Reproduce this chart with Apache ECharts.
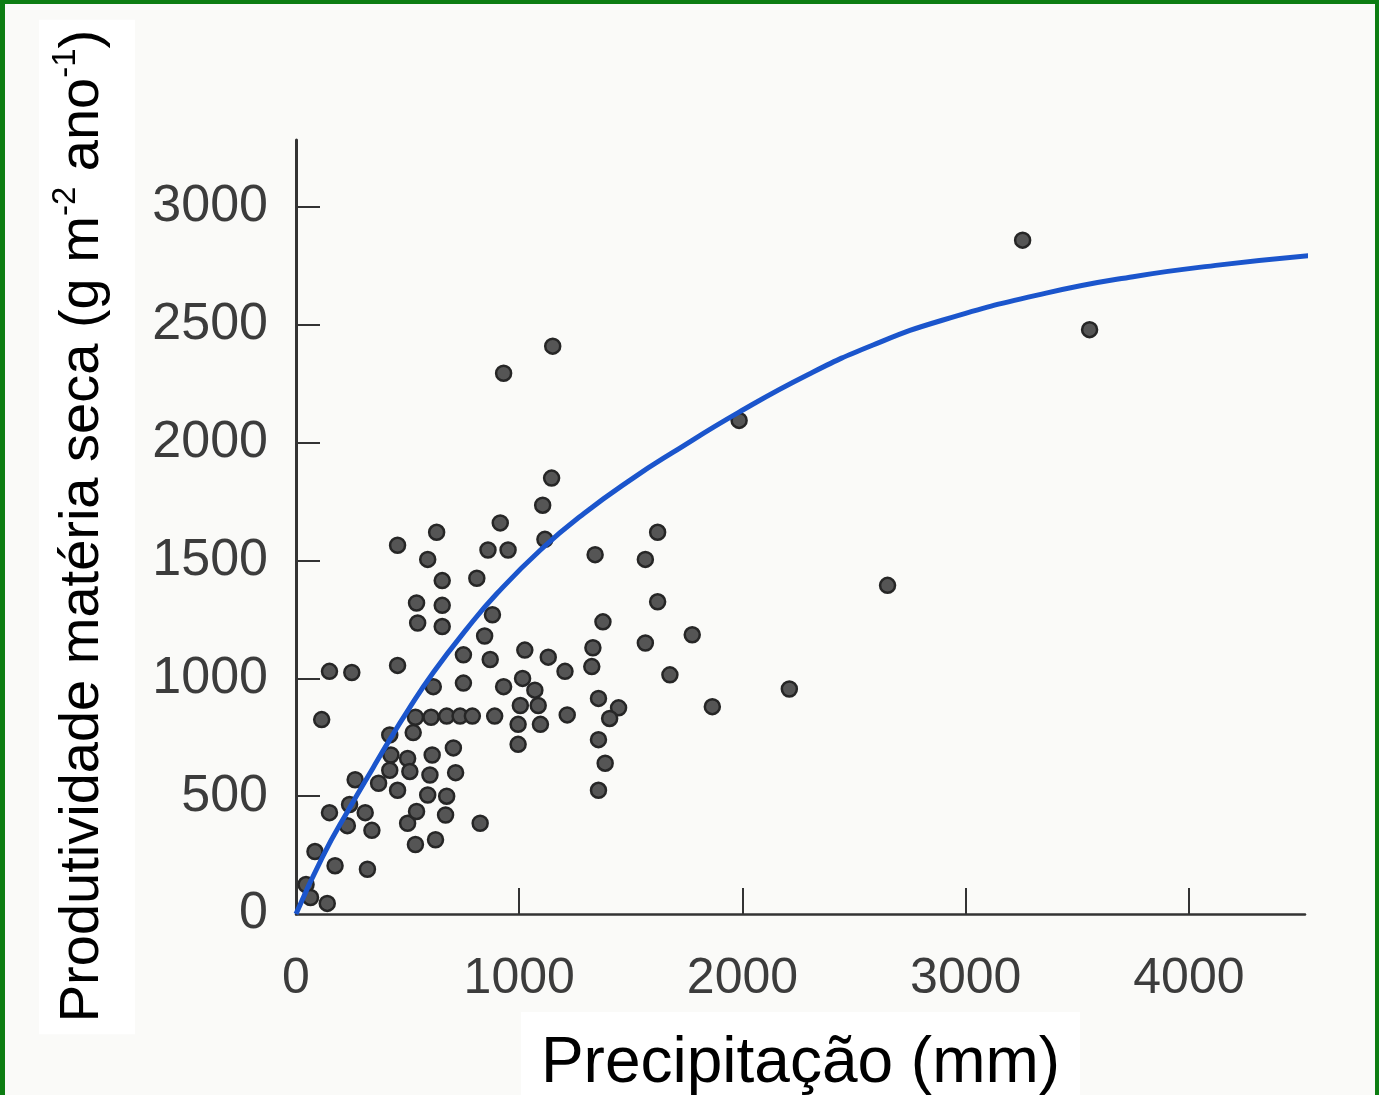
<!DOCTYPE html>
<html>
<head>
<meta charset="utf-8">
<script src="https://cdn.jsdelivr.net/npm/echarts@6/dist/echarts.min.js"></script>
<style>
  html, body { margin: 0; padding: 0; background: #fafaf8; }
  #chart { position: absolute; left: 0; top: 0; width: 1379px; height: 1095px; }
  #frame { position: absolute; left: 0; top: 0; width: 1379px; height: 1095px; box-sizing: border-box;
           border: solid #0c7d12; border-width: 4px 4px 0 5px; pointer-events: none; }
</style>
</head>
<body>
<div id="chart"></div>
<div id="frame"></div>
<script>
// precipitacao (mm) x produtividade (g m-2 ano-1)
const precip = [45, 65, 140, 85, 175, 320, 115, 150, 250, 455, 150, 240, 310, 340, 230,
  370, 265, 455, 425, 420, 500, 510, 420, 525, 500, 535, 540, 590, 625, 670,
  675, 600, 610, 705, 715, 825, 535, 605, 675, 735, 790, 890, 615, 750, 750,
  870, 930, 1015, 1070, 1005, 1085, 995, 1095, 995, 1215, 1025, 1130, 1205, 545, 655,
  540, 655, 845, 880, 590, 655, 810, 630, 455, 860, 950, 915, 1115, 1105, 1145,
  930, 1150, 1620, 1340, 1565, 1620, 1375, 1775, 1565, 1330, 1325, 1675, 1355, 1445, 1405,
  1865, 1355, 1385, 1355, 1985, 2650, 2210, 3255, 3555];
const produt = [125, 70, 45, 265, 205, 190, 825, 1030, 1025, 1055, 430, 465, 430, 355, 375,
  555, 570, 525, 675, 610, 660, 605, 760, 770, 385, 295, 435, 505, 315, 420,
  500, 590, 675, 705, 600, 385, 835, 835, 840, 840, 840, 840, 965, 980, 1100,
  1080, 965, 1000, 950, 885, 885, 805, 805, 720, 845, 1120, 1090, 1030, 1235, 1220,
  1320, 1310, 1180, 1270, 1505, 1415, 1425, 1620, 1565, 1545, 1545, 1660, 1590, 1735, 1850,
  2295, 2410, 1620, 1525, 1505, 1325, 1240, 1185, 1150, 1130, 1050, 1015, 915, 875, 830,
  880, 740, 640, 525, 2095, 1395, 955, 2860, 2480];

// curva ajustada (azul)
const curvePrecip = [0, 120, 240, 345, 420, 495, 615, 765, 900, 1095, 1290, 1510, 1690,
  1985, 2295, 2585, 2895, 3360, 3750, 4140, 4545];
const curveProdut = [0, 245, 450, 620, 740, 855, 1025, 1210, 1360, 1545, 1700, 1850, 1960,
  2130, 2290, 2415, 2520, 2635, 2705, 2755, 2795];

const xTicks = [0, 1000, 2000, 3000, 4000];
const yTicks = [0, 500, 1000, 1500, 2000, 2500, 3000];

const chart = echarts.init(document.getElementById('chart'));
const axisColor = '#333';
const font = 'Liberation Sans, Arial, sans-serif';

chart.setOption({
  backgroundColor: '#fafaf8',
  animation: false,
  grid: {
    left: 296, right: 74, top: 140, bottom: 181,
    containLabel: false,
    outerBoundsMode: 'none'
  },
  xAxis: {
    type: 'value',
    min: 0,
    max: 4520,
    name: 'Precipitação (mm)',
    nameLocation: 'middle',
    nameGap: 98,
    nameTextStyle: {
      fontFamily: font, fontSize: 64, color: '#000',
      backgroundColor: '#fff', padding: [20, 20, 14, 20]
    },
    axisLine: { lineStyle: { color: axisColor, width: 2.5 } },
    axisTick: {
      inside: true, length: 26, customValues: xTicks.slice(1),
      lineStyle: { color: axisColor, width: 2 }
    },
    axisLabel: {
      customValues: xTicks, fontFamily: font, fontSize: 50, color: '#3c3c3c', margin: 40,
      formatter: (v) => String(v)
    },
    splitLine: { show: false }
  },
  yAxis: {
    type: 'value',
    min: 0,
    max: 3285,
    name: '{t|Produtividade matéria seca (g m}{s|-2}{t| ano}{s|-1}{t|)}',
    nameLocation: 'middle',
    nameRotate: 90,
    nameGap: 161,
    nameTextStyle: {
      backgroundColor: '#fff',
      padding: [10, 10, 24, 12],
      rich: {
        t: { fontFamily: font, fontSize: 56, color: '#000', lineHeight: 62, verticalAlign: 'bottom' },
        s: { fontFamily: font, fontSize: 33, color: '#000', lineHeight: 62, verticalAlign: 'top', padding: [0, 0, 28, 0] }
      }
    },
    axisLine: { lineStyle: { color: axisColor, width: 3 } },
    axisTick: {
      inside: true, length: 24, customValues: yTicks.slice(1),
      lineStyle: { color: axisColor, width: 2 }
    },
    axisLabel: {
      customValues: yTicks, fontFamily: font, fontSize: 52, color: '#3c3c3c', margin: 28,
      formatter: (v) => String(v)
    },
    splitLine: { show: false }
  },
  series: [
    {
      type: 'scatter',
      data: precip.map((p, i) => [p, produt[i]]),
      symbol: 'circle',
      symbolSize: 15,
      itemStyle: { color: '#555', borderColor: '#262626', borderWidth: 2.5, opacity: 1 },
      z: 2
    },
    {
      type: 'line',
      data: curvePrecip.map((p, i) => [p, curveProdut[i]]),
      smooth: 0.5,
      showSymbol: false,
      lineStyle: { color: '#1b55cc', width: 5 },
      z: 3
    }
  ]
});
</script>
</body>
</html>
